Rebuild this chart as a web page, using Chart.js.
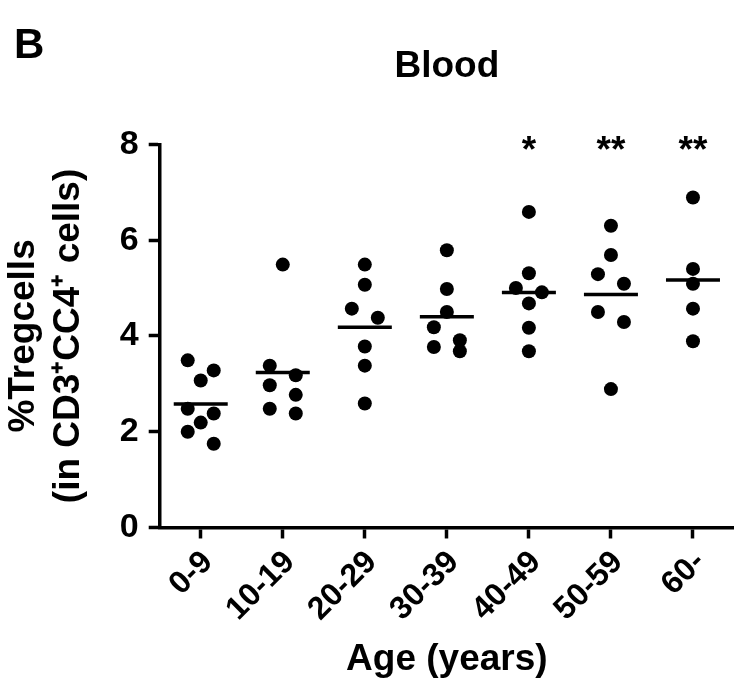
<!DOCTYPE html>
<html>
<head>
<meta charset="utf-8">
<script src="https://cdn.jsdelivr.net/npm/chart.js@4"></script>
<style>
  html, body { margin: 0; padding: 0; background: #fff; }
  #wrap { position: relative; width: 734px; height: 679px; }
</style>
</head>
<body>
<div id="wrap"><canvas id="chart" width="734" height="679"></canvas></div>
<script>
// values (% Treg cells per donor)
const ageGroups = ['0-9', '10-19', '20-29', '30-39', '40-49', '50-59', '60-'];
const treg0to9   = [3.49, 3.28, 3.07, 2.48, 2.38, 2.19, 2.00, 1.75];
const treg10to19 = [5.49, 3.38, 3.18, 2.97, 2.77, 2.48, 2.38];
const treg20to29 = [5.49, 5.07, 4.57, 4.38, 3.78, 3.38, 2.59];
const treg30to39 = [5.79, 4.98, 4.50, 4.18, 3.91, 3.77, 3.68];
const treg40to49 = [6.59, 5.31, 5.00, 4.91, 4.68, 4.17, 3.68];
const treg50to59 = [6.30, 5.69, 5.29, 5.09, 4.50, 4.29, 2.89];
const treg60up   = [6.89, 5.40, 5.09, 4.57, 3.89];
const significance = ['', '', '', '', '*', '**', '**'];
const yTicks = [0, 2, 4, 6, 8];
const panelLetter = 'B';

const groups = [treg0to9, treg10to19, treg20to29, treg30to39, treg40to49, treg50to59, treg60up];
const FONT = "'Liberation Sans', Arial, Helvetica, sans-serif";

const mean = arr => arr.reduce((a, b) => a + b, 0) / arr.length;
const meanPoints = groups.map((vals, i) => ({x: i, y: mean(vals)}));
// start every dot on its group centre, spread later once the scales exist
const rawPoints = [];
groups.forEach((vals, i) => vals.forEach(v => rawPoints.push({x: i, y: v})));

const annotations = {
    id: 'annotations',
    afterDraw(chart) {
        const {ctx, scales: {x, y}} = chart;
        ctx.save();
        ctx.fillStyle = '#000';
        ctx.font = 'bold 37px ' + FONT;
        ctx.textAlign = 'center';
        ctx.textBaseline = 'alphabetic';
        significance.forEach((s, i) => {
            if (!s) return;
            ctx.fillText(s, x.getPixelForValue(i), y.getPixelForValue(8) + 18);
        });
        ctx.font = 'bold 42px ' + FONT;
        ctx.textAlign = 'left';
        ctx.fillText(panelLetter, 14, 58);
        ctx.restore();
    }
};

const ctx = document.getElementById('chart').getContext('2d');
const chart = new Chart(ctx, {
    type: 'scatter',
    data: {
        datasets: [
            {
                label: 'donors',
                data: rawPoints,
                pointStyle: 'circle',
                pointRadius: 7,
                pointBorderWidth: 0,
                backgroundColor: '#000',
                borderColor: '#000'
            },
            {
                label: 'mean',
                data: meanPoints,
                pointStyle: 'line',
                pointRadius: 27,
                pointBorderWidth: 3.5,
                borderColor: '#000',
                backgroundColor: '#000'
            }
        ]
    },
    options: {
        responsive: false,
        animation: false,
        events: [],
        layout: {padding: 0, autoPadding: false},
        plugins: {
            legend: {display: false},
            tooltip: {enabled: false},
            title: {
                display: true,
                fullSize: false,
                text: 'Blood',
                color: '#000',
                font: {family: FONT, size: 37, weight: 'bold', lineHeight: 1.2},
                padding: {top: 45, bottom: 55}
            }
        },
        scales: {
            x: {
                type: 'linear',
                min: -0.5,
                max: 6.5,
                afterBuildTicks: s => { s.ticks = ageGroups.map((_, i) => ({value: i})); },
                afterFit: s => { s.paddingLeft = 0; s.paddingRight = 0; },
                border: {display: true, color: '#000', width: 3.5},
                grid: {drawOnChartArea: false, drawTicks: true, tickLength: 11, tickWidth: 3.5, tickColor: '#000'},
                ticks: {
                    color: '#000',
                    font: {family: FONT, size: 32, weight: 'bold'},
                    minRotation: 45,
                    maxRotation: 45,
                    autoSkip: false,
                    padding: 5,
                    labelOffset: 7,
                    callback: v => ageGroups[v]
                },
                title: {
                    display: true,
                    text: 'Age (years)',
                    color: '#000',
                    font: {family: FONT, size: 37, weight: 'bold', lineHeight: 1.0},
                    padding: {top: 8, bottom: 0.5}
                }
            },
            y: {
                type: 'linear',
                min: 0,
                max: 8,
                afterBuildTicks: s => { s.ticks = yTicks.map(v => ({value: v})); },
                border: {display: true, color: '#000', width: 3.5},
                grid: {drawOnChartArea: false, drawTicks: true, tickLength: 11, tickWidth: 3.5, tickColor: '#000'},
                ticks: {
                    color: '#000',
                    font: {family: FONT, size: 34, weight: 'bold'},
                    padding: 10
                },
                title: {
                    display: true,
                    text: ['%Tregcells', '(in CD3\u207ACC4\u207A cells)'],
                    color: '#000',
                    font: {family: FONT, size: 37, weight: 'bold', lineHeight: 1.2},
                    padding: {top: 2, bottom: 19}
                }
            }
        }
    },
    plugins: [annotations]
});

// dot-plot spread: dots that sit within one row height get pushed sideways
function spreadGroups(chart) {
    const xs = chart.scales.x, ys = chart.scales.y;
    const rowGap = 14;
    const step = 13;
    const pts = [];
    groups.forEach((vals, gi) => {
        const cx = xs.getPixelForValue(gi);
        const sorted = vals.slice().sort((a, b) => b - a);
        let row = [];
        const flush = () => {
            const pattern = row.length === 1 ? [0] : row.length === 2 ? [-1, 1] : [-1, 1, 0, -2, 2];
            row.forEach((v, k) => pts.push({x: xs.getValueForPixel(cx + pattern[k] * step), y: v}));
            row = [];
        };
        sorted.forEach(v => {
            if (row.length && ys.getPixelForValue(v) - ys.getPixelForValue(row[0]) >= rowGap) flush();
            row.push(v);
        });
        if (row.length) flush();
    });
    chart.data.datasets[0].data = pts;
    chart.update('none');
}
spreadGroups(chart);
</script>
</body>
</html>
